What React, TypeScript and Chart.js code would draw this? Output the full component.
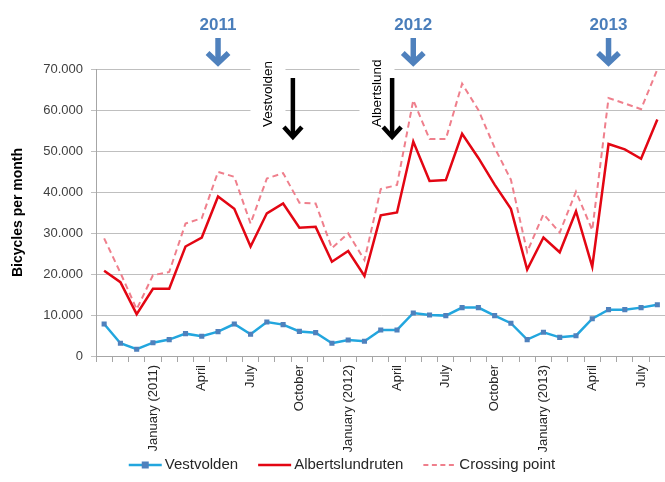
import React, { useEffect, useRef } from 'react';
import { Chart, registerables } from 'chart.js';

Chart.register(...registerables);

const categories = [
  'Oct 2010', 'Nov 2010', 'Dec 2010',
  'Jan 2011', 'Feb 2011', 'Mar 2011', 'Apr 2011', 'May 2011', 'Jun 2011',
  'Jul 2011', 'Aug 2011', 'Sep 2011', 'Oct 2011', 'Nov 2011', 'Dec 2011',
  'Jan 2012', 'Feb 2012', 'Mar 2012', 'Apr 2012', 'May 2012', 'Jun 2012',
  'Jul 2012', 'Aug 2012', 'Sep 2012', 'Oct 2012', 'Nov 2012', 'Dec 2012',
  'Jan 2013', 'Feb 2013', 'Mar 2013', 'Apr 2013', 'May 2013', 'Jun 2013',
  'Jul 2013', 'Aug 2013',
];

const tickLabels = [
  '', '', '',
  'January (2011)', '', '', 'April', '', '', 'July', '', '', 'October', '', '',
  'January (2012)', '', '', 'April', '', '', 'July', '', '', 'October', '', '',
  'January (2013)', '', '', 'April', '', '', 'July', '',
];

const vestvolden = [
  7800, 3100, 1650, 3250, 4000, 5450, 4800, 5950, 7800, 5300, 8300, 7650,
  6000, 5700, 3100, 3900, 3600, 6350, 6350, 10500, 10000, 9850, 11800, 11800,
  9850, 8000, 4000, 5800, 4550, 4950, 9100, 11300, 11300, 11800, 12500,
];

const albertslundruten = [
  20800, 18000, 10200, 16400, 16400, 26700, 28900, 38900, 35900, 26700, 34800, 37200,
  31300, 31500, 23000, 25600, 19500, 34300, 35000, 52300, 42700, 42900, 54200, 48300,
  41800, 35900, 21100, 28900, 25300, 35300, 21800, 51700, 50400, 48100, 57700,
];

const crossingPoint = [
  28700, 20300, 11400, 19700, 20500, 32300, 33600, 44900, 43700, 32300, 43300, 44600,
  37400, 37200, 26300, 29900, 23400, 40700, 41700, 62400, 52900, 52900, 66400, 60000,
  50800, 43000, 25400, 34600, 30100, 40100, 30700, 62900, 61600, 60200, 69900,
];

const yTickValues = [0, 10000, 20000, 30000, 40000, 50000, 60000, 70000];

const yearMarks = [
  { label: '2011', at: 7 },
  { label: '2012', at: 19 },
  { label: '2013', at: 31 },
];

const routeMarks = [
  { label: 'Vestvolden', arrowAt: 11.6, textAt: 10.1 },
  { label: 'Albertslund', arrowAt: 17.7, textAt: 16.8 },
];

const FONT = '"Liberation Sans", Arial, sans-serif';
const BLUE_LINE = '#22a6de';
const BLUE_MARK = '#4f81bd';
const RED = '#e30613';
const PINK = '#ef7f8c';
const YEAR_BLUE = '#4a7ebb';

const fmt = (v: number) => String(v).replace(/\B(?=(\d{3})+(?!\d))/g, '.');

function drawArrow(
  ctx: CanvasRenderingContext2D,
  x: number, y1: number, y2: number,
  lw: number, headW: number, headH: number, color: string,
) {
  ctx.save();
  ctx.strokeStyle = color;
  ctx.lineWidth = lw;
  ctx.lineCap = 'butt';
  ctx.lineJoin = 'miter';
  ctx.beginPath();
  ctx.moveTo(x, y1);
  ctx.lineTo(x, y2 - 3);
  ctx.stroke();
  ctx.beginPath();
  ctx.moveTo(x - headW / 2, y2 - headH);
  ctx.lineTo(x, y2 - 3);
  ctx.lineTo(x + headW / 2, y2 - headH);
  ctx.stroke();
  ctx.restore();
}

const annotationPlugin = {
  id: 'annotations',
  beforeDatasetsDraw(chart: any) {
    const ctx = chart.ctx as CanvasRenderingContext2D;
    const xs = chart.scales.x;
    ctx.save();
    ctx.fillStyle = '#ffffff';
    routeMarks.forEach((m) => {
      const cx = xs.getPixelForValue(m.textAt);
      ctx.fillRect(cx - 18, 58, 35, 64);
    });
    ctx.restore();
  },
  afterDraw(chart: any) {
    const ctx = chart.ctx as CanvasRenderingContext2D;
    const xs = chart.scales.x;
    yearMarks.forEach((m) => {
      const x = xs.getPixelForValue(m.at);
      ctx.save();
      ctx.fillStyle = YEAR_BLUE;
      ctx.font = `bold 17px ${FONT}`;
      ctx.textAlign = 'center';
      ctx.textBaseline = 'alphabetic';
      ctx.fillText(m.label, x, 30);
      ctx.restore();
      drawArrow(ctx, x, 38, 66, 5.5, 21, 13, BLUE_MARK);
    });
    routeMarks.forEach((m) => {
      const tx = xs.getPixelForValue(m.textAt);
      ctx.save();
      ctx.translate(tx, 127);
      ctx.rotate(-Math.PI / 2);
      ctx.fillStyle = '#000000';
      ctx.font = `13.5px ${FONT}`;
      ctx.textAlign = 'left';
      ctx.textBaseline = 'middle';
      ctx.fillText(m.label, 0, 0);
      ctx.restore();
      const ax = xs.getPixelForValue(m.arrowAt);
      drawArrow(ctx, ax, 78, 140, 4.5, 18, 13, '#000000');
    });
    const items = [
      { label: 'Vestvolden', kind: 'marker' },
      { label: 'Albertslundruten', kind: 'solid' },
      { label: 'Crossing point', kind: 'dash' },
    ];
    const iconW = 33;
    const gap = 3;
    const between = 20;
    ctx.save();
    ctx.font = `15px ${FONT}`;
    const widths = items.map((it) => ctx.measureText(it.label).width);
    const total = widths.reduce((a, b) => a + b, 0) + items.length * (iconW + gap) + between * (items.length - 1);
    let x = 342 - total / 2;
    const y = 465;
    items.forEach((it, i) => {
      ctx.save();
      if (it.kind === 'marker') {
        ctx.strokeStyle = BLUE_LINE;
        ctx.lineWidth = 2.5;
        ctx.beginPath();
        ctx.moveTo(x, y);
        ctx.lineTo(x + iconW, y);
        ctx.stroke();
        ctx.fillStyle = BLUE_MARK;
        ctx.fillRect(x + iconW / 2 - 3.5, y - 3.5, 7, 7);
      } else if (it.kind === 'solid') {
        ctx.strokeStyle = RED;
        ctx.lineWidth = 2.5;
        ctx.beginPath();
        ctx.moveTo(x, y);
        ctx.lineTo(x + iconW, y);
        ctx.stroke();
      } else {
        ctx.strokeStyle = PINK;
        ctx.lineWidth = 2;
        ctx.setLineDash([5, 3.5]);
        ctx.beginPath();
        ctx.moveTo(x, y);
        ctx.lineTo(x + iconW, y);
        ctx.stroke();
      }
      ctx.restore();
      x += iconW + gap;
      ctx.fillStyle = '#262626';
      ctx.textAlign = 'left';
      ctx.textBaseline = 'middle';
      ctx.fillText(it.label, x, y);
      x += widths[i] + between;
    });
    ctx.restore();
  },
};

export default function App() {
  const canvasRef = useRef<HTMLCanvasElement | null>(null);

  useEffect(() => {
    const canvas = canvasRef.current;
    if (!canvas) return;
    const chart = new Chart(canvas, {
      type: 'line',
      data: {
        labels: categories,
        datasets: [
          {
            label: 'Vestvolden',
            data: vestvolden,
            borderColor: BLUE_LINE,
            backgroundColor: BLUE_MARK,
            borderWidth: 2.5,
            pointStyle: 'rect',
            pointRadius: 3.6,
            pointBackgroundColor: BLUE_MARK,
            pointBorderColor: BLUE_MARK,
            pointBorderWidth: 0,
            tension: 0,
            order: 1,
          },
          {
            label: 'Albertslundruten',
            data: albertslundruten,
            borderColor: RED,
            backgroundColor: RED,
            borderWidth: 2.5,
            pointRadius: 0,
            tension: 0,
            order: 2,
          },
          {
            label: 'Crossing point',
            data: crossingPoint,
            borderColor: PINK,
            backgroundColor: PINK,
            borderWidth: 2,
            borderDash: [6, 4],
            pointRadius: 0,
            tension: 0,
            order: 3,
          },
        ],
      },
      options: {
        responsive: false,
        animation: false,
        devicePixelRatio: 1,
        layout: { padding: { top: 69, left: 0, right: 0, bottom: 0 } },
        plugins: {
          legend: { display: false },
          tooltip: { enabled: false },
        },
        scales: {
          x: {
            offset: true,
            grid: {
              offset: true,
              drawOnChartArea: false,
              drawTicks: true,
              tickLength: 6,
              color: '#a6a6a6',
            },
            border: { display: true, color: '#a6a6a6', width: 1 },
            ticks: {
              autoSkip: false,
              maxRotation: 90,
              minRotation: 90,
              padding: 3,
              color: '#262626',
              font: { family: FONT, size: 13 },
              callback: (_v: any, i: number) => tickLabels[i],
            },
            afterFit: (s: any) => { s.height = 126; },
          },
          y: {
            min: 0,
            max: 70000,
            afterBuildTicks: (s: any) => { s.ticks = yTickValues.map((v) => ({ value: v })); },
            ticks: {
              padding: 8,
              color: '#404040',
              font: { family: FONT, size: 13 },
              callback: (v: any) => fmt(Number(v)),
            },
            grid: { color: '#bfbfbf', tickLength: 5, drawTicks: true },
            border: { display: true, color: '#a6a6a6', width: 1 },
            title: {
              display: true,
              text: 'Bicycles per month',
              color: '#000000',
              font: { family: FONT, size: 14, weight: 'bold' },
              padding: { top: 10, bottom: 0 },
            },
            afterFit: (s: any) => { s.width = 96; },
          },
        },
      },
      plugins: [annotationPlugin],
    } as any);
    return () => chart.destroy();
  }, []);

  return (
    <div style={{ position: 'fixed', left: 0, top: 0, width: 665, height: 482, overflow: 'hidden', background: '#ffffff' }}>
      <canvas ref={canvasRef} width={676} height={482} style={{ display: 'block' }} />
    </div>
  );
}
